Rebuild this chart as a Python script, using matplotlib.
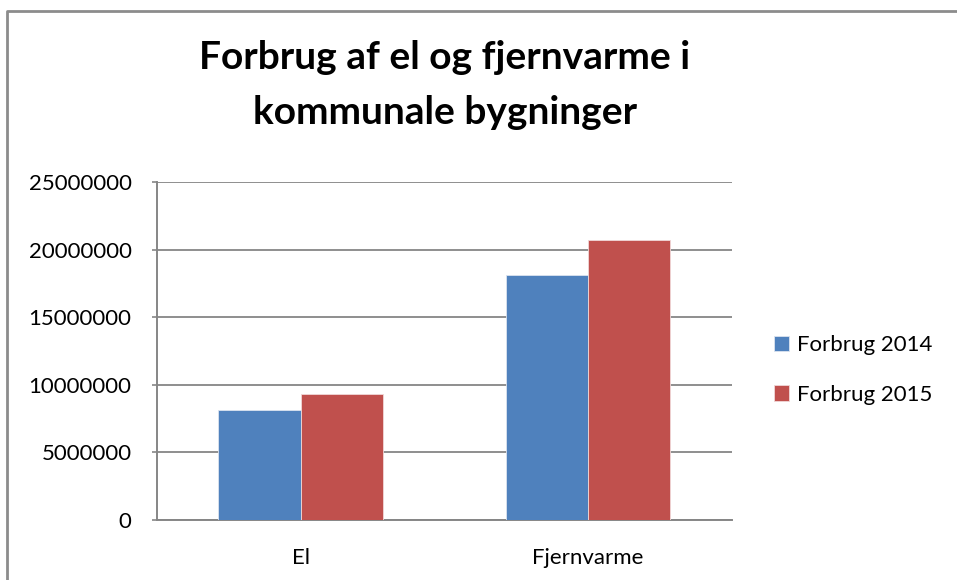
import numpy as np
import matplotlib
matplotlib.use("Agg")
import matplotlib.pyplot as plt
from matplotlib.lines import Line2D

categories = ["El", "Fjernvarme"]
forbrug_2014 = [8120000, 18150000]
forbrug_2015 = [9330000, 20680000]
series_names = ["Forbrug 2014", "Forbrug 2015"]
yticks = [0, 5000000, 10000000, 15000000, 20000000, 25000000]

plt.rcParams['font.family'] = ['Lato', 'DejaVu Sans']

W, H = 957, 580
fig = plt.figure(figsize=(W / 100, H / 100), dpi=100)
ax = fig.add_axes([156.7 / W, 1 - 520 / H, (732 - 156.7) / W, (520 - 182) / H])

# chart frame: only the left and top edges show in the reference
fx, fy = 7.5 / W, 1 - 10.5 / H
fig.lines.append(Line2D([fx, fx, 1.0], [0.0, fy, fy], transform=fig.transFigure,
                        color='#8c8c8c', linewidth=2.0))

x = np.arange(len(categories)) + 0.5
bw = 1 / 3.5
ax.bar(x - bw / 2, forbrug_2014, bw, color='#4F81BD', edgecolor='#dbe4f0',
       linewidth=0.6, label=series_names[0], zorder=3)
ax.bar(x + bw / 2, forbrug_2015, bw, color='#C0504D', edgecolor='#f0d8d8',
       linewidth=0.6, label=series_names[1], zorder=3)

ax.set_xlim(0, 2)
ax.set_ylim(0, 25000000)
ax.set_yticks(yticks)
ax.set_yticklabels([str(v) for v in yticks], fontsize=16, color='black')
ax.set_xticks(x)
ax.set_xticklabels(categories, fontsize=16)
ax.tick_params(axis='x', length=0, pad=20)
ax.tick_params(axis='y', length=3.6, width=1.2, color='#868686', pad=14.5)
ax.yaxis.grid(True, color='#868686', linewidth=1.3, zorder=0)
ax.set_axisbelow(True)
for s in ['top', 'right']:
    ax.spines[s].set_visible(False)
for s in ['left', 'bottom']:
    ax.spines[s].set_color('#868686')
    ax.spines[s].set_linewidth(1.4)

fig.text(445 / W, 1 - 85 / H, "Forbrug af el og fjernvarme i\nkommunale bygninger",
         ha='center', va='center', fontsize=28, fontweight='bold',
         linespacing=1.72)

leg = ax.legend(loc='center left', bbox_to_anchor=(774 / W, 1 - 370 / H),
                bbox_transform=fig.transFigure, frameon=False, fontsize=16,
                handlelength=0.68, handleheight=0.68, handletextpad=0.36,
                labelspacing=1.32, borderpad=0, borderaxespad=0)

fig.savefig("out.png", dpi=100, facecolor='white')
